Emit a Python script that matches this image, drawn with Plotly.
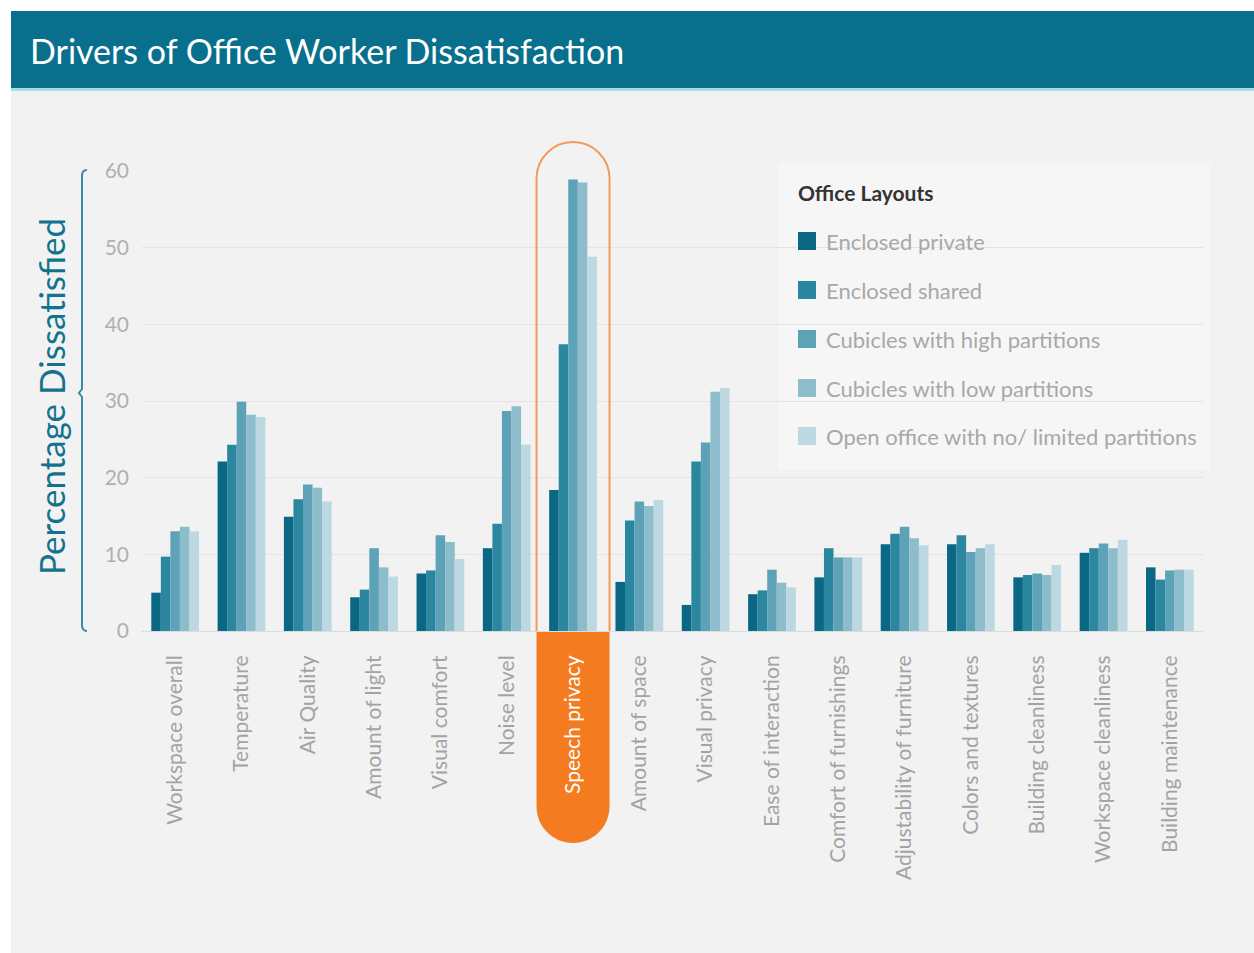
import plotly.graph_objects as go

categories = ["Workspace overall", "Temperature", "Air Quality", "Amount of light",
              "Visual comfort", "Noise level", "Speech privacy", "Amount of space",
              "Visual privacy", "Ease of interaction", "Comfort of furnishings",
              "Adjustability of furniture", "Colors and textures", "Building cleanliness",
              "Workspace cleanliness", "Building maintenance"]

series_names = ["Enclosed private", "Enclosed shared", "Cubicles with high partitions",
                "Cubicles with low partitions", "Open office with no/ limited partitions"]

enclosed_private = [5.0, 22.1, 14.9, 4.4, 7.5, 10.8, 18.4, 6.4, 3.4, 4.8, 7.0, 11.3, 11.3, 7.0, 10.2, 8.3]
enclosed_shared = [9.7, 24.3, 17.2, 5.4, 7.9, 14.0, 37.4, 14.4, 22.1, 5.3, 10.8, 12.7, 12.5, 7.3, 10.8, 6.7]
cubicles_high = [13.0, 29.9, 19.1, 10.8, 12.5, 28.7, 58.9, 16.9, 24.6, 8.0, 9.6, 13.6, 10.3, 7.5, 11.4, 7.9]
cubicles_low = [13.6, 28.2, 18.7, 8.3, 11.6, 29.3, 58.5, 16.3, 31.2, 6.3, 9.6, 12.1, 10.8, 7.3, 10.8, 8.0]
open_office = [13.0, 27.9, 16.9, 7.1, 9.4, 24.3, 48.8, 17.1, 31.7, 5.7, 9.6, 11.2, 11.3, 8.6, 11.9, 8.0]

y_ticks = [0, 10, 20, 30, 40, 50, 60]
highlight = "Speech privacy"

colors = ["#0b6884", "#2b86a0", "#5ea2b7", "#8dbccb", "#bcd8e1"]
all_values = [enclosed_private, enclosed_shared, cubicles_high, cubicles_low, open_office]

# figure geometry in screen pixels (body margin removed via post_script)
W, H = 1254, 953
PLOT_X0, PLOT_X1 = 142, 1203
PLOT_Y0, PLOT_Y1 = 171, 631
L = PLOT_X0
R = W - PLOT_X1
T = PLOT_Y0
B = H - PLOT_Y1
PW = W - L - R
PH = H - T - B
FONT = "Lato, 'Open Sans', sans-serif"


def px(x):
    return (x - PLOT_X0) / PW


def py(y):
    return (PLOT_Y1 - y) / PH


def path_from_px(cmds):
    out = []
    for c in cmds:
        if isinstance(c, str):
            out.append(c)
        else:
            out.append(f"{px(c[0]):.5f},{py(c[1]):.5f}")
    return " ".join(out)


fig = go.Figure()
xs = list(range(len(categories)))
for name, vals, col in zip(series_names, all_values, colors):
    fig.add_bar(x=xs, y=vals, name=name, marker=dict(color=col, line=dict(width=0)),
                showlegend=False)

ticktext = [f"<span style='color:#ffffff'>{c}</span>" if c == highlight else c for c in categories]

shapes = []
# card background
shapes.append(dict(type="rect", xref="paper", yref="paper", x0=px(11), x1=px(W + 2), y0=py(H + 2), y1=py(11),
                   fillcolor="#f2f2f3", line=dict(width=0), layer="below"))
# title bar
shapes.append(dict(type="rect", xref="paper", yref="paper", x0=px(11), x1=px(W + 2), y0=py(88), y1=py(11),
                   fillcolor="#08708c", line=dict(width=0), layer="below"))
shapes.append(dict(type="rect", xref="paper", yref="paper", x0=px(11), x1=px(W + 2), y0=py(91), y1=py(88),
                   fillcolor="#a9dbe4", line=dict(width=0), layer="below"))
# legend panel
shapes.append(dict(type="rect", xref="paper", yref="paper", x0=px(778), x1=px(1210), y0=py(470), y1=py(163),
                   fillcolor="#f6f6f7", line=dict(width=0), layer="below"))

# highlight geometry
hi = categories.index(highlight)
cw = PW / len(categories)
cx = PLOT_X0 + (hi + 0.5) * cw
hw = 36.5
x0h, x1h = cx - hw, cx + hw
k = 0.5523 * hw
top = 142
base = PLOT_Y1
bot = 843
pill = path_from_px(["M", (x0h, base), "L", (x1h, base), "L", (x1h, bot - hw),
                     "C", (x1h, bot - hw + k), (cx + k, bot), (cx, bot),
                     "C", (cx - k, bot), (x0h, bot - hw + k), (x0h, bot - hw), "Z"])
shapes.append(dict(type="path", xref="paper", yref="paper", path=pill,
                   fillcolor="#f47b20", line=dict(width=0), layer="below"))
outline = path_from_px(["M", (x0h, base), "L", (x0h, top + hw),
                        "C", (x0h, top + hw - k), (cx - k, top), (cx, top),
                        "C", (cx + k, top), (x1h, top + hw - k), (x1h, top + hw),
                        "L", (x1h, base)])
shapes.append(dict(type="path", xref="paper", yref="paper", path=outline,
                   line=dict(color="#f29a5a", width=2), layer="above"))
# y-axis bracket
bracket = path_from_px(["M", (87, 170), "Q", (82, 170), (82, 176), "L", (82, 389), "L", (79, 393),
                        "L", (82, 397), "L", (82, 625), "Q", (82, 631), (87, 631)])
shapes.append(dict(type="path", xref="paper", yref="paper", path=bracket,
                   line=dict(color="#3d8aa0", width=2), layer="above"))

annotations = []
annotations.append(dict(text="Drivers of Office Worker Dissatisfaction", xref="paper", yref="paper",
                        x=px(28), y=py(50), xanchor="left", yanchor="middle", showarrow=False,
                        font=dict(family=FONT, size=34, color="#ffffff")))
annotations.append(dict(text="Percentage Dissatisfied", xref="paper", yref="paper",
                        x=px(51), y=py(397), xanchor="center", yanchor="middle", showarrow=False,
                        textangle=-90, font=dict(family=FONT, size=35, color="#13728c")))
annotations.append(dict(text="<b>Office Layouts</b>", xref="paper", yref="paper",
                        x=px(796), y=py(193), xanchor="left", yanchor="middle", showarrow=False,
                        font=dict(family=FONT, size=21, color="#333333")))
leg_y = [241, 290, 339, 388, 436]
for name, col, ly in zip(series_names, colors, leg_y):
    shapes.append(dict(type="rect", xref="paper", yref="paper", x0=px(798), x1=px(816),
                       y0=py(ly + 9), y1=py(ly - 9), fillcolor=col, line=dict(width=0), layer="above"))
    annotations.append(dict(text=name, xref="paper", yref="paper", x=px(824), y=py(ly),
                            xanchor="left", yanchor="middle", showarrow=False,
                            font=dict(family=FONT, size=22, color="#a8a8a8")))

fig.update_layout(
    width=W, height=H,
    margin=dict(l=L, r=R, t=T, b=B, autoexpand=False),
    paper_bgcolor="#ffffff",
    plot_bgcolor="rgba(0,0,0,0)",
    barmode="group",
    bargap=0.28,
    bargroupgap=0,
    showlegend=False,
    hovermode=False,
    shapes=shapes,
    annotations=annotations,
    xaxis=dict(tickmode="array", tickvals=xs, ticktext=ticktext, tickangle=-90,
               range=[-0.5, len(categories) - 0.5], showgrid=False, showline=True,
               linecolor="#dcdcdc", linewidth=1, ticks="", ticklabelstandoff=15,
               tickfont=dict(family=FONT, size=21, color="#a3a3a3"), automargin=False),
    yaxis=dict(range=[0, 60], tickvals=y_ticks, showgrid=True, gridcolor="#e4e4e6", gridwidth=1,
               zeroline=False, showline=False, ticks="", ticklabelstandoff=12,
               tickfont=dict(family=FONT, size=21, color="#b0b0b0"), automargin=False),
)

fig.write_html("out.html", config={"displayModeBar": False},
               post_script="document.body.style.margin='0';document.body.style.overflow='hidden';")
